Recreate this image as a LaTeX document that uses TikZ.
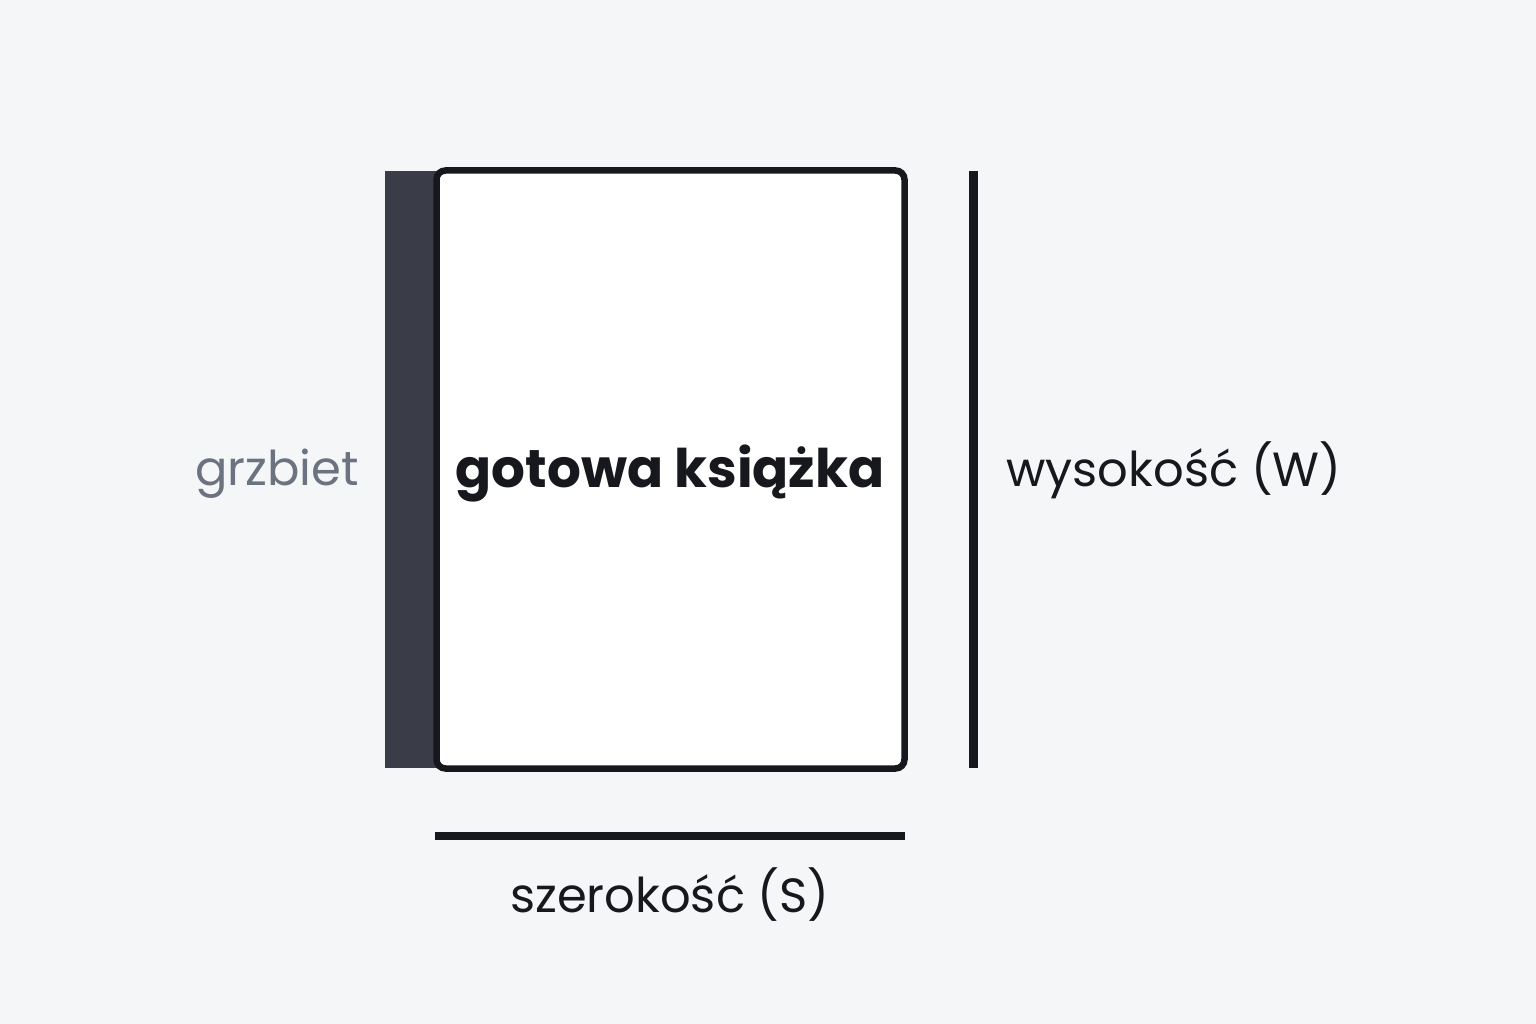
\documentclass[tikz,border=0pt]{standalone}
\usepackage{fontspec}
\setmainfont{Poppins}
\definecolor{bg}{HTML}{F5F6F8}
\definecolor{ink}{HTML}{16181D}
\definecolor{spinec}{HTML}{3A3D47}
\definecolor{grayt}{HTML}{6B7280}
\tikzset{
  lbl/.style={font=\fontsize{48}{52}\selectfont, text=ink, inner sep=0pt, anchor=base},
  dimline/.style={draw=ink, line width=8.5pt},
}
\begin{document}
\begin{tikzpicture}[x=1pt,y=-1pt]
\useasboundingbox[fill=bg] (0,0) rectangle (1536,1024);
\fill[spinec] (385,171) rectangle (437,768);
\node[draw=ink, fill=white, line width=6.5pt, rounded corners=9pt, minimum width=468pt, minimum height=598pt, inner sep=0pt] (book) at (670.5,469.5) {};
\node[lbl, font=\fontsize{53.2}{57}\selectfont\bfseries] (title) at (670,487) {gotowa książka};
\node[lbl, text=grayt] (spine) at (277,485) {grzbiet};
\coordinate (vt) at (973.5,171);
\coordinate (vb) at (973.5,768);
\draw[dimline] (vt) -- (vb);
\coordinate (hl) at (435,836);
\coordinate (hr) at (905,836);
\draw[dimline] (hl) -- (hr);
\node[lbl] (height) at (1174,486) {wysokość (W)};
\node[lbl] (width) at (670,912) {szerokość (S)};
\end{tikzpicture}
\end{document}
